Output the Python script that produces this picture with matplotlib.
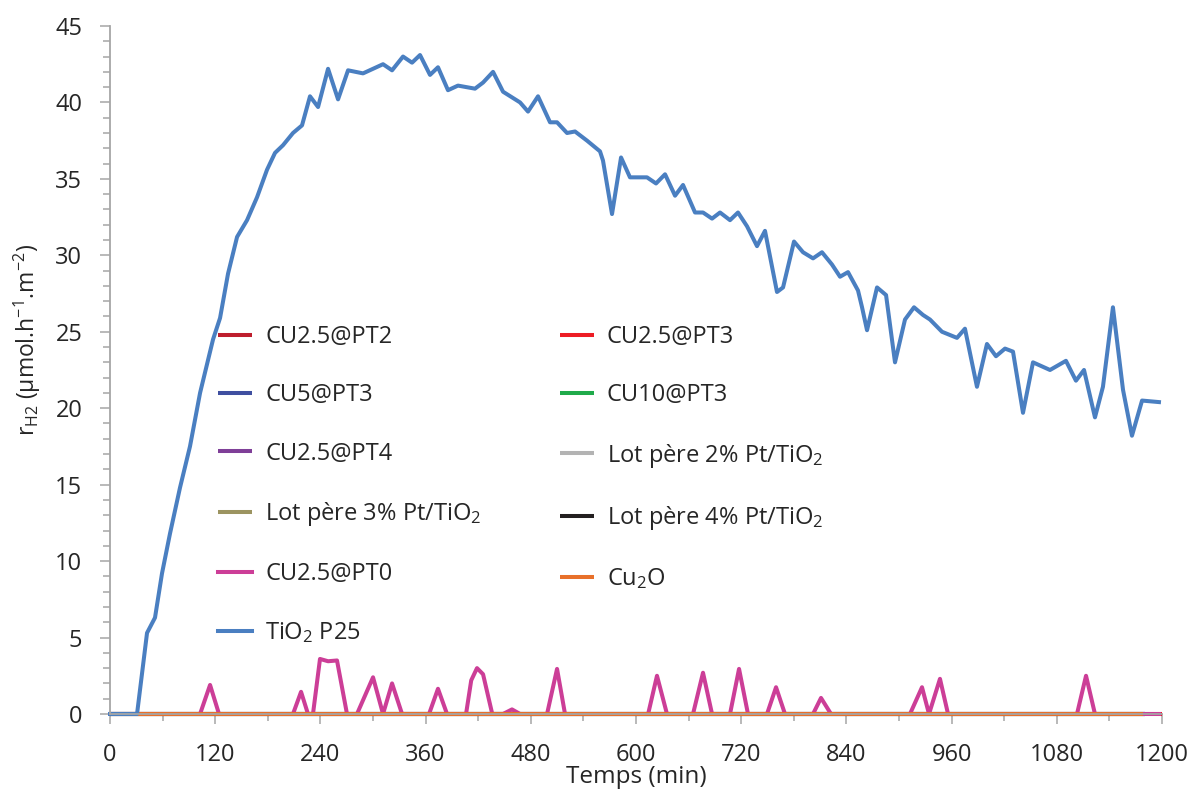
import matplotlib
matplotlib.use("Agg")
import matplotlib.pyplot as plt
from matplotlib.ticker import MultipleLocator

plt.rcParams['font.family'] = ['Open Sans', 'DejaVu Sans']
plt.rcParams['mathtext.default'] = 'regular'

# ---------------- data ----------------
# TiO2 P25 (blue)
tio2_time = [0, 30.8, 42.2, 51.3, 59.3, 68.4, 79.8, 91.2, 102.7, 117.5, 125.5, 134.6,
             144.9, 156.3, 167.7, 179.1, 188.2, 197.3, 208.7, 219.0, 228.1, 237.3,
             248.7, 260.1, 271.5, 288.6, 311.4, 321.7, 334.2, 344.5, 353.6, 365.0,
             374.1, 385.5, 396.9, 416.3, 425.5, 436.9, 448.3, 467.7, 476.8, 488.2,
             501.9, 509.9, 521.3, 530.4, 544.1, 558.9, 562.3, 572.6, 582.9, 593.1,
             612.5, 622.8, 633.1, 644.5, 653.6, 667.3, 676.4, 686.7, 695.8, 707.2,
             716.3, 726.6, 738.0, 747.1, 760.8, 767.7, 780.2, 790.5, 801.9, 812.1,
             823.5, 832.7, 841.8, 853.2, 857.8, 863.5, 874.9, 885.2, 895.4, 906.8,
             917.1, 927.3, 935.3, 949.0, 966.1, 975.2, 988.9, 1000.3, 1010.6, 1020.9,
             1030.0, 1041.4, 1052.8, 1072.2, 1090.4, 1101.8, 1111.0, 1123.5, 1132.6,
             1144.0, 1155.5, 1165.7, 1177.2, 1196.5]
tio2_rate = [0, 0, 5.3, 6.3, 9.2, 11.8, 14.8, 17.5, 21.0, 24.5, 25.9, 28.8,
             31.2, 32.3, 33.8, 35.6, 36.7, 37.2, 38.0, 38.5, 40.4, 39.7,
             42.2, 40.2, 42.1, 41.9, 42.5, 42.1, 43.0, 42.6, 43.1, 41.8,
             42.3, 40.8, 41.1, 40.9, 41.3, 42.0, 40.7, 40.0, 39.4, 40.4,
             38.7, 38.7, 38.0, 38.1, 37.5, 36.8, 36.2, 32.7, 36.4, 35.1,
             35.1, 34.7, 35.3, 33.9, 34.6, 32.8, 32.8, 32.4, 32.8, 32.3,
             32.8, 31.9, 30.6, 31.6, 27.6, 27.9, 30.9, 30.2, 29.8, 30.2,
             29.4, 28.6, 28.9, 27.7, 26.6, 25.1, 27.9, 27.4, 23.0, 25.8,
             26.6, 26.1, 25.8, 25.0, 24.6, 25.2, 21.4, 24.2, 23.4, 23.9,
             23.7, 19.7, 23.0, 22.5, 23.1, 21.8, 22.5, 19.4, 21.4,
             26.6, 21.2, 18.2, 20.5, 20.4]

# CU2.5@PT0 (pink)
pt0_time = [0, 102.7, 114.1, 124.3, 208.7, 217.9, 225.8, 231.5, 239.5, 248.7, 258.9,
            270.3, 281.7, 300.0, 311.4, 321.7, 333.1, 363.9, 374.1, 384.4, 406.1,
            412.0, 418.6, 425.5, 436.0, 448.3, 458.5, 467.7, 498.5, 509.9, 519.0,
            613.8, 623.9, 635.3, 665.0, 676.4, 686.7, 707.2, 717.5, 727.7, 749.4,
            759.7, 769.9, 801.9, 811.0, 822.4, 912.5, 926.2, 934.2, 946.7, 955.9,
            1103.0, 1113.3, 1123.5, 1196.5]
pt0_rate = [0, 0, 1.9, 0, 0, 1.45, 0, 0, 3.6, 3.45, 3.5,
            0, 0, 2.4, 0, 2.0, 0, 0, 1.65, 0, 0,
            2.2, 3.0, 2.6, 0, 0, 0.3, 0, 0, 2.95, 0,
            0, 2.5, 0, 0, 2.7, 0, 0, 2.95, 0, 0,
            1.75, 0, 0, 1.05, 0, 0, 1.75, 0, 2.3, 0,
            0, 2.5, 0, 0]

# series that stay at zero over the whole run
zero_labels = ['CU2.5@PT2', 'CU2.5@PT3', 'CU5@PT3', 'CU10@PT3', 'CU2.5@PT4',
               'Lot père 2% Pt/TiO$_2$', 'Lot père 3% Pt/TiO$_2$',
               'Lot père 4% Pt/TiO$_2$']
zero_colors = ['#BE1E2D', '#ED1C24', '#3F4FA0', '#1FAA4A', '#7F3F98',
               '#B3B3B3', '#9C9461', '#231F20']
zero_end = [1180, 1200, 1180, 1180, 1180, 1180, 1180, 1180]
zero_rate = [0, 0]

cu2o_time = [0, 1178]
cu2o_rate = [0, 0]

x_ticks = list(range(0, 1201, 120))
y_ticks = list(range(0, 46, 5))

# ---------------- plot ----------------
fig = plt.figure(figsize=(11.96, 7.92), dpi=100)
ax = fig.add_axes([0.092, 0.0985, 0.8796, 0.8687])

lw = 2.9
handles = []
for lab, col, end in zip(zero_labels, zero_colors, zero_end):
    h, = ax.plot([0, end], zero_rate, color=col, lw=lw, label=lab, clip_on=False,
                 solid_capstyle='butt')
    handles.append(h)
h, = ax.plot(pt0_time, pt0_rate, color='#CC3E97', lw=lw, label='CU2.5@PT0',
             clip_on=False, solid_joinstyle='round')
handles.append(h)
h, = ax.plot(cu2o_time, cu2o_rate, color='#E8702A', lw=lw, label='Cu$_2$O',
             clip_on=False, solid_capstyle='butt')
handles.append(h)
h, = ax.plot(tio2_time, tio2_rate, color='#4A7FC1', lw=lw, label='TiO$_2$ P25',
             clip_on=False, solid_joinstyle='round')
handles.append(h)

ax.set_xlim(0, 1200)
ax.set_ylim(0, 45)
ax.set_xticks(x_ticks)
ax.set_yticks(y_ticks)
ax.xaxis.set_minor_locator(MultipleLocator(60))
ax.yaxis.set_minor_locator(MultipleLocator(1))

for s in ['top', 'right']:
    ax.spines[s].set_visible(False)
for s in ['left', 'bottom']:
    ax.spines[s].set_color('#A6A6A6')
    ax.spines[s].set_linewidth(1.3)

ax.tick_params(axis='both', which='major', direction='out', length=7, width=1.1,
               color='#A6A6A6', labelsize=17, labelcolor='#262626')
ax.tick_params(axis='both', which='minor', direction='out', length=5, width=1.1,
               color='#A6A6A6')
ax.tick_params(axis='y', which='major', pad=13)
ax.tick_params(axis='x', which='major', pad=14)

ax.set_xlabel('Temps (min)', fontsize=17.5, color='#262626')
ax.xaxis.set_label_coords(0.5, -0.074)
ax.set_ylabel('r$_{H2}$ (µmol.h$^{-1}$.m$^{-2}$)', fontsize=16.5, color='#262626')
ax.yaxis.set_label_coords(-0.064, 0.544)

# legend filled row by row as in the reference (two columns)
order = [0, 2, 4, 6, 8, 10, 1, 3, 5, 7, 9]
leg = ax.legend([handles[i] for i in order], [handles[i].get_label() for i in order],
                ncol=2, loc='upper left', bbox_to_anchor=(0.1027, 0.565),
                frameon=False, fontsize=17, handlelength=1.45, handletextpad=0.55,
                columnspacing=3.3, labelspacing=1.45, borderpad=0, borderaxespad=0)
for t in leg.get_texts():
    t.set_color('#262626')

fig.savefig('out.png', dpi=100)
